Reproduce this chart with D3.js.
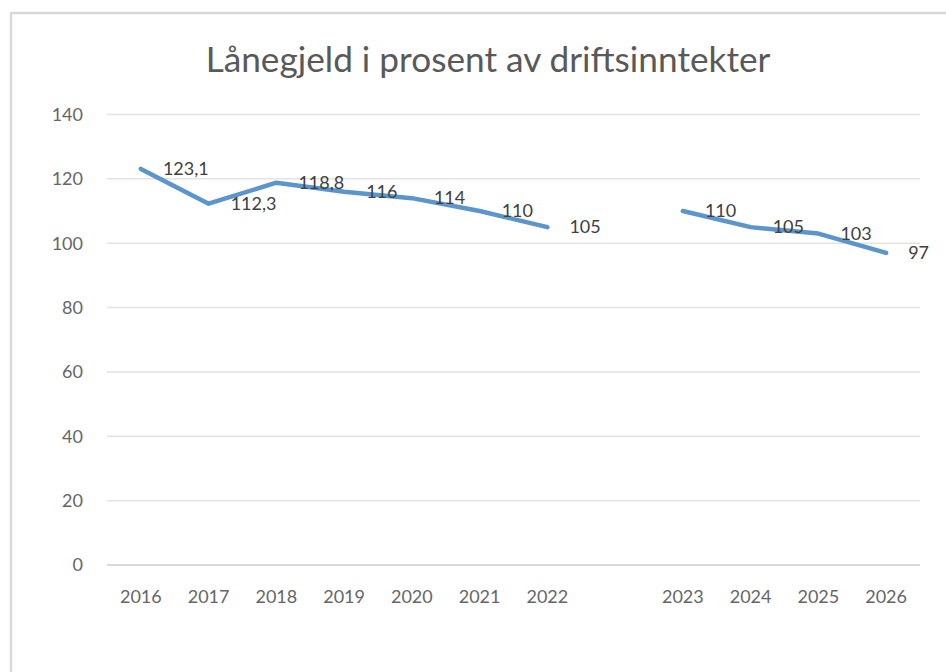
<!DOCTYPE html>
<html>
<head>
<meta charset="utf-8">
<script src="https://cdn.jsdelivr.net/npm/d3@7"></script>
<style>
  body { margin: 0; background: #fff; }
  svg { display: block; }
  text { font-family: Lato, "Open Sans", sans-serif; }
</style>
</head>
<body>
<div id="graph"></div>
<script>
// --------------------------------------
//  Data
// --------------------------------------

const title = "Lånegjeld i prosent av driftsinntekter";

// one empty slot between the actuals and the plan years
const years = ["2016", "2017", "2018", "2019", "2020", "2021", "2022", "", "2023", "2024", "2025", "2026"];
const values = [123.1, 112.3, 118.8, 116, 114, 110, 105, null, 110, 105, 103, 97];

const yTicks = [0, 20, 40, 60, 80, 100, 120, 140];

// --------------------------------------
//  Canvas
// --------------------------------------

const W = 946, H = 672;
const margin = { top: 114.5, right: 26, bottom: 107, left: 107 };

const svg = d3.select("#graph")
  .append("svg")
  .attr("width", W)
  .attr("height", H);

// chart frame, runs off the right and bottom edge like the screenshot
svg.append("rect")
  .attr("x", 11)
  .attr("y", 13)
  .attr("width", W + 20)
  .attr("height", H + 20)
  .attr("fill", "#fff")
  .attr("stroke", "#d9d9d9")
  .attr("stroke-width", 2.5);

// --------------------------------------
//  Scales
// --------------------------------------

const x = d3.scaleBand()
  .domain(d3.range(years.length))
  .range([margin.left, W - margin.right])
  .padding(0);

const y = d3.scaleLinear()
  .domain([0, 140])
  .range([H - margin.bottom, margin.top]);

const nb = d3.formatLocale({ decimal: ",", thousands: " ", grouping: [3], currency: ["", " kr"] });
const fmt = (v) => (Number.isInteger(v) ? String(v) : nb.format(".1f")(v));

// --------------------------------------
//  Grid + axes
// --------------------------------------

svg.append("g")
  .selectAll("line")
  .data(yTicks)
  .join("line")
  .attr("x1", margin.left)
  .attr("x2", W - margin.right)
  .attr("y1", (d) => y(d))
  .attr("y2", (d) => y(d))
  .attr("stroke", (d) => (d === 0 ? "#d9d9d9" : "#e3e3e3"))
  .attr("stroke-width", (d) => (d === 0 ? 2 : 1.5));

svg.append("g")
  .selectAll("text")
  .data(yTicks)
  .join("text")
  .attr("x", 83)
  .attr("y", (d) => y(d))
  .attr("dy", "0.35em")
  .attr("text-anchor", "end")
  .attr("font-size", 18)
  .attr("fill", "#666")
  .text((d) => d);

svg.append("g")
  .selectAll("text")
  .data(years)
  .join("text")
  .attr("x", (d, i) => x(i) + x.bandwidth() / 2)
  .attr("y", 597)
  .attr("dy", "0.35em")
  .attr("text-anchor", "middle")
  .attr("font-size", 18)
  .attr("fill", "#666")
  .text((d) => d);

// --------------------------------------
//  Title
// --------------------------------------

const t = svg.append("text")
  .attr("x", 488)
  .attr("y", 60)
  .attr("dy", "0.35em")
  .attr("text-anchor", "middle")
  .attr("font-size", 30)
  .attr("fill", "#595959")
  .text(title);

// fit the title to the width it has in the picture
const tw = t.node().getComputedTextLength();
t.attr("font-size", 30 * 565 / tw);

// --------------------------------------
//  Line + labels
// --------------------------------------

const pts = values.map((v, i) => ({ i, v }));

const line = d3.line()
  .defined((d) => d.v !== null)
  .x((d) => x(d.i) + x.bandwidth() / 2)
  .y((d) => y(d.v));

svg.append("path")
  .datum(pts)
  .attr("d", line)
  .attr("fill", "none")
  .attr("stroke", "#5b95cc")
  .attr("stroke-width", 4.5)
  .attr("stroke-linejoin", "round")
  .attr("stroke-linecap", "round");

svg.append("g")
  .selectAll("text")
  .data(pts.filter((d) => d.v !== null))
  .join("text")
  .attr("x", (d) => x(d.i) + x.bandwidth() / 2 + 22)
  .attr("y", (d) => y(d.v))
  .attr("dy", "0.35em")
  .attr("font-size", 18)
  .attr("fill", "#404040")
  .text((d) => fmt(d.v));
</script>
</body>
</html>
